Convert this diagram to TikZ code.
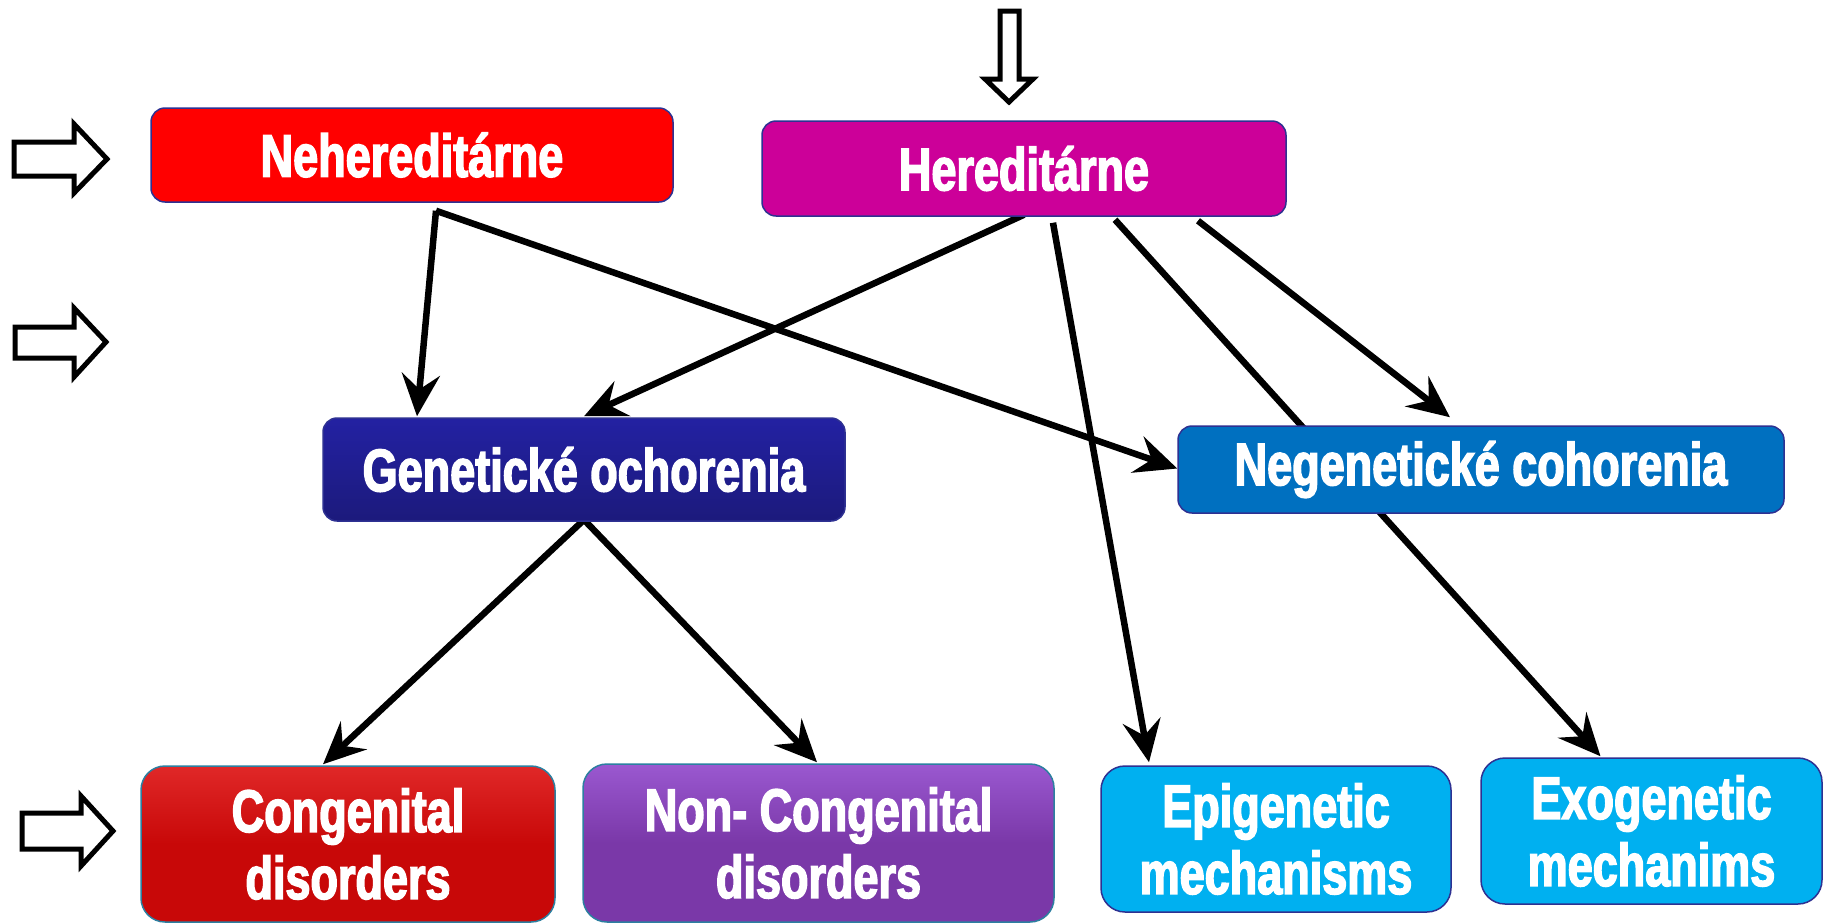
\documentclass[tikz,border=0pt]{standalone}
\usepackage{fontspec}
\newfontfamily\boxfont{Liberation Sans}[FakeStretch=0.75,FakeBold=2.5]
\usetikzlibrary{arrows.meta,backgrounds,calc}
\definecolor{cNeh}{HTML}{FF0000}
\definecolor{cHer}{HTML}{CC0099}
\definecolor{cGenTop}{HTML}{2321A2}
\definecolor{cGenBot}{HTML}{1C1A7C}
\definecolor{cNeg}{HTML}{0070C0}
\definecolor{cCong}{HTML}{C80808}
\definecolor{cCongTop}{HTML}{E02828}
\definecolor{cNCong}{HTML}{7A38A8}
\definecolor{cNCongTop}{HTML}{9A58D0}
\definecolor{cMech}{HTML}{00B0F0}
\definecolor{cBorder}{HTML}{2E3192}
\definecolor{cBevel}{HTML}{2C7FA0}
\begin{document}
\begin{tikzpicture}[x=1pt,y=-1pt,
  box/.style={rounded corners=14pt, draw=cBorder, line width=1.5pt, inner sep=0pt,
    text=white, align=center,
    font=\boxfont\bfseries\fontsize{60}{67}\selectfont},
  bigbox/.style={box, rounded corners=24pt},
  conn/.style={line width=6.5pt, -{Stealth[length=42pt,width=38pt,inset=15pt]}},
  blockarrow/.style={draw=black, line width=5pt, fill=white, line join=miter}
]
\useasboundingbox (0,0) rectangle (1824,924);

% boxes
\node[box, fill=cNeh, minimum width=522pt, minimum height=94pt] (neh) at (412,155) {Nehereditárne};
\node[box, fill=cHer, minimum width=524pt, minimum height=95pt] (her) at (1024,168.5) {Hereditárne};
\node[box, top color=cGenTop, bottom color=cGenBot, minimum width=522pt, minimum height=103pt] (gen) at (584,469.5) {Genetické ochorenia};
\node[box, fill=cNeg, minimum width=606pt, minimum height=87pt] (neg) at (1481,469.5) {Negenetické cohorenia};
\node[bigbox, draw=cBevel, top color=cCongTop, bottom color=cCong, middle color=cCong, minimum width=414pt, minimum height=156pt] (cong) at (348,844) {Congenital\\disorders};
\node[bigbox, draw=cBevel, top color=cNCongTop, bottom color=cNCong, middle color=cNCong, minimum width=471pt, minimum height=158pt] (ncong) at (818.5,843) {Non- Congenital\\disorders};
\node[bigbox, fill=cMech, minimum width=350pt, minimum height=146pt] (epi) at (1276,839) {Epigenetic\\mechanisms};
\node[bigbox, fill=cMech, minimum width=341pt, minimum height=146pt] (exo) at (1651.5,831) {Exogenetic\\mechanims};

% connectors (behind boxes)
\begin{scope}[on background layer]
\fill[white] (0,0) rectangle (1824,924);
\draw[conn] ([xshift=24pt,yshift=-8pt]neh.south) -- ([xshift=-167pt,yshift=1pt]gen.north);
\draw[conn] ([xshift=24pt,yshift=-8pt]neh.south) -- ([yshift=1pt]neg.west);
\draw[conn] ([yshift=2pt]her.south) -- ([yshift=1pt]gen.north);
\draw[conn] ([xshift=29pt,yshift=-6pt]her.south) -- ([xshift=-127pt,yshift=3pt]epi.north);
\draw[conn] ([xshift=91pt,yshift=-3pt]her.south) -- ([xshift=-51pt,yshift=1pt]exo.north);
\draw[conn] ([xshift=174pt,yshift=-4pt]her.south) -- ([xshift=-31pt,yshift=8pt]neg.north);
\draw[conn] ([yshift=2pt]gen.south) -- ([xshift=-25pt,yshift=1pt]cong.north);
\draw[conn] ([yshift=2pt]gen.south) -- ([xshift=-1.5pt,yshift=1pt]ncong.north);
\end{scope}

% block arrows
\draw[blockarrow] (14,142) -- (74,142) -- (74,124) -- (107,159) -- (74,193) -- (74,176) -- (14,176) -- cycle;
\draw[blockarrow] (15,327) -- (74,327) -- (74,308) -- (106,342) -- (74,377) -- (74,358) -- (15,358) -- cycle;
\draw[blockarrow] (22,813) -- (81,813) -- (81,796) -- (113,831) -- (81,866) -- (81,849) -- (22,849) -- cycle;
\draw[blockarrow] (1000,11) -- (1019,11) -- (1019,79) -- (1033,79) -- (1009,102) -- (985,79) -- (1000,79) -- cycle;
\end{tikzpicture}
\end{document}
